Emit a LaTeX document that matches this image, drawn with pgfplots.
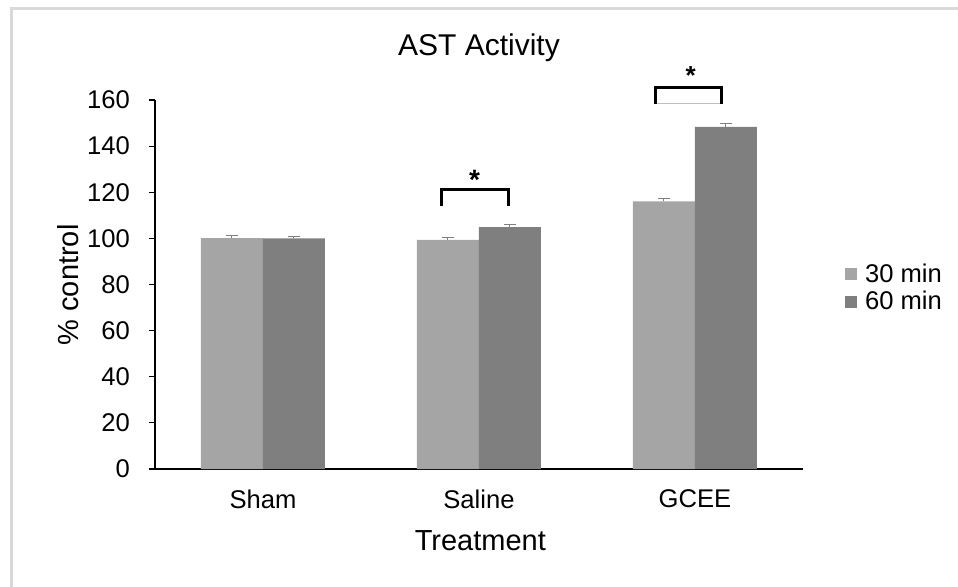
\documentclass[border=0pt]{standalone}
\usepackage{pgfplots}
\pgfplotsset{compat=1.18}
\usepackage{fontspec}
\setmainfont{Liberation Sans}
\definecolor{lightbar}{HTML}{A5A5A5}
\definecolor{darkbar}{HTML}{7F7F7F}
\definecolor{chartframe}{HTML}{D9D9D9}

\begin{document}
\begin{tikzpicture}
% picture frame: 958 x 586 px at 0.5pt per px, axis origin at (155px,469px)
\path[use as bounding box] (-77.5pt,-58.5pt) rectangle (401.5pt,234.5pt);
\draw[chartframe, line width=1.5pt] (-71.5pt,-70pt) -- (-71.5pt,230.5pt) -- (420pt,230.5pt);
\begin{axis}[
  at={(0pt,0pt)}, anchor=south west,
  width=324pt, height=184.5pt, scale only axis,
  xmin=-0.5, xmax=2.5, ymin=0, ymax=160,
  ybar=0pt, bar width=31pt,
  axis x line*=bottom, axis y line*=left,
  axis line style={black, line width=0.6pt},
  xtick={0,1,2}, xticklabels={Sham,Saline,GCEE},
  x tick style={draw=none},
  ytick={0,20,...,160},
  y tick style={black, line width=0.6pt},
  tick align=outside, major tick length=3pt,
  /pgf/number format/assume math mode=true,
  tick label style={font=\fontsize{12.8}{14}\selectfont},
  xticklabel style={yshift=-4pt},
  yticklabel style={xshift=-6pt},
  clip=false,
  legend style={at={(1.055,0.49)}, anchor=west, draw=none, fill=none,
    font=\fontsize{12.8}{14}\selectfont, row sep=-1pt,
    /tikz/every even column/.append style={column sep=0pt}},
  legend cell align=left,
  legend image code/.code={\fill[#1] (0pt,-3pt) rectangle (6pt,3pt);},
  error bars/y dir=plus, error bars/y explicit,
  error bars/error bar style={color=darkbar, line width=0.5pt},
  error bars/error mark options={rotate=90, mark size=3pt, color=darkbar, line width=0.5pt},
]
\addplot[fill=lightbar, draw=none] coordinates {
  (0,100.1) +- (0,1.0)
  (1,99.4)  +- (0,0.9)
  (2,116.1) +- (0,1.1)
};
\addplot[fill=darkbar, draw=none] coordinates {
  (0,100.0) +- (0,1.0)
  (1,104.9) +- (0,1.2)
  (2,148.4) +- (0,1.4)
};
\legend{\hspace{2pt}30 min, \hspace{2pt}60 min}

% significance brackets
\draw[black, line width=1.5pt] (axis cs:0.827,113.9) -- (axis cs:0.827,121.2) -- (axis cs:1.136,121.2) -- (axis cs:1.136,113.9);
\node[font=\bfseries\fontsize{14}{14}\selectfont] at (axis cs:0.98,125.5) {*};
\draw[black!25, line width=0.5pt] (axis cs:1.815,158.3) -- (axis cs:2.125,158.3);
\draw[black, line width=1.5pt] (axis cs:1.815,158.3) -- (axis cs:1.815,165.5) -- (axis cs:2.125,165.5) -- (axis cs:2.125,158.3);
\node[font=\bfseries\fontsize{13}{14}\selectfont] at (axis cs:1.98,170.5) {*};

\node[font=\fontsize{15}{18}\selectfont] at (rel axis cs:0.5,1.141) {AST Activity};
\node[font=\fontsize{14.5}{17}\selectfont] at (rel axis cs:0.502,-0.195) {Treatment};
\node[font=\fontsize{14.5}{17}\selectfont, rotate=90] at (rel axis cs:-0.134,0.499) {\% control};
\end{axis}
\end{tikzpicture}
\end{document}
